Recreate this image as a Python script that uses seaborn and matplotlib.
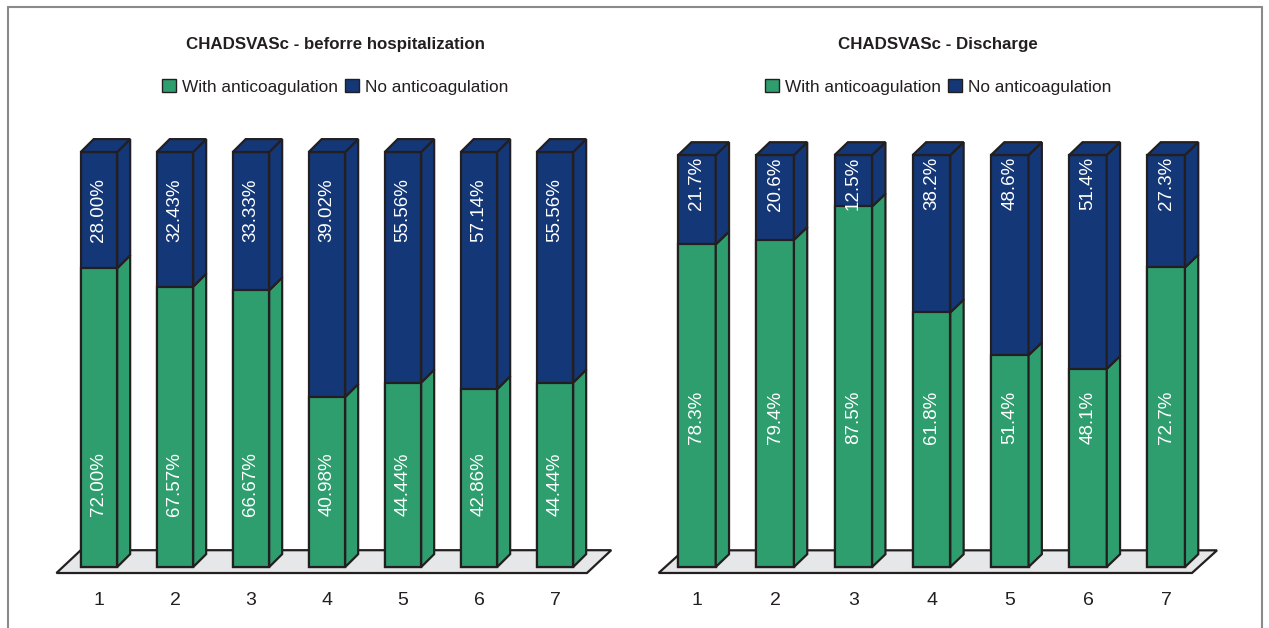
import matplotlib.pyplot as plt
import seaborn as sns
from matplotlib.patches import Polygon, Patch
from matplotlib.lines import Line2D

# data
categories = ["1", "2", "3", "4", "5", "6", "7"]
before_with = [72.00, 67.57, 66.67, 40.98, 44.44, 42.86, 44.44]
before_without = [28.00, 32.43, 33.33, 39.02, 55.56, 57.14, 55.56]
discharge_with = [78.3, 79.4, 87.5, 61.8, 51.4, 48.1, 72.7]
discharge_without = [21.7, 20.6, 12.5, 38.2, 48.6, 51.4, 27.3]
series_names = ["With anticoagulation", "No anticoagulation"]
titles = ["CHADSVASc - beforre hospitalization", "CHADSVASc - Discharge"]

GREEN = "#2f9e6f"
BLUE = "#143777"
EDGE = "#231f20"
FLOOR = "#e6e7e8"
LW = 1.6
W = 0.48

sns.set_style("white")
plt.rcParams["font.family"] = ["Liberation Sans", "DejaVu Sans"]

fig = plt.figure(figsize=(12.69, 6.28), dpi=100)
FW, FH = 1269, 628


def px_axes(left, top, right, bottom):
    return fig.add_axes([left / FW, 1 - bottom / FH, (right - left) / FW, (bottom - top) / FH])


def draw_panel(ax, with_vals, without_vals, fmt, title, xc, y_lab_with, y_lab_without,
               floor_l, floor_r):
    n = len(categories)
    total = [100] * n
    sns.barplot(x=categories, y=total, color=BLUE, saturation=1, width=W,
                edgecolor=EDGE, linewidth=LW, ax=ax, zorder=3)
    sns.barplot(x=categories, y=with_vals, color=GREEN, saturation=1, width=W,
                edgecolor=EDGE, linewidth=LW, ax=ax, zorder=3)
    dx, dy = 0.17, 3.1
    # floor
    fl = -W / 2 - floor_l
    fr = (n - 1) + W / 2 + floor_r
    fy, fdx, fdy = -1.45, 0.32, 5.5
    ax.add_patch(Polygon([(fl, fy), (fr, fy), (fr + fdx, fy + fdy), (fl + fdx, fy + fdy)],
                         closed=True, facecolor=FLOOR, edgecolor=EDGE, lw=LW, zorder=1))
    for i in range(n):
        g = with_vals[i]
        xr = i + W / 2
        xl = i - W / 2
        for y0, y1, c in [(0, g, GREEN), (g, 100, BLUE)]:
            ax.add_patch(Polygon([(xr, y0), (xr + dx, y0 + dy), (xr + dx, y1 + dy), (xr, y1)],
                                 closed=True, facecolor=c, edgecolor=EDGE, lw=LW,
                                 joinstyle="miter", zorder=3))
        ax.add_patch(Polygon([(xl, 100), (xr, 100), (xr + dx, 100 + dy), (xl + dx, 100 + dy)],
                             closed=True, facecolor=BLUE, edgecolor=EDGE, lw=LW,
                             joinstyle="miter", zorder=3))
        ax.text(i, y_lab_with, fmt.format(g), rotation=90, ha="center", va="center",
                color="white", fontsize=13.5, zorder=5)
        ax.text(i, y_lab_without, fmt.format(without_vals[i]), rotation=90, ha="center",
                va="center", color="white", fontsize=13.5, zorder=5)
    ax.set_xlim(-0.8, 7.0)
    ax.set_ylim(-5, 110)
    ax.set_yticks([])
    ax.set_xticks(range(n))
    ax.set_xticklabels(categories)
    ax.tick_params(axis="x", length=0, pad=3, labelsize=14, colors="#231f20")
    ax.set_xlabel("")
    ax.set_ylabel("")
    for s in ax.spines.values():
        s.set_visible(False)
    ax.patch.set_alpha(0)
    fig.text(xc / FW, 1 - 44 / FH, title, ha="center", va="center",
             fontsize=12.2, fontweight="bold", color="#231f20")
    handles = [Patch(facecolor=GREEN, edgecolor=EDGE, lw=1),
               Patch(facecolor=BLUE, edgecolor=EDGE, lw=1)]
    ax.legend(handles, series_names, loc="center", bbox_to_anchor=(xc / FW, 1 - 87 / FH),
              bbox_transform=fig.transFigure, ncol=2, frameon=False, fontsize=12.4,
              handlelength=0.8, handleheight=0.8, handletextpad=0.35,
              columnspacing=0.4, borderaxespad=0, labelcolor="#231f20")


ax1 = px_axes(38.2, 110.5, 631.0, 587.75)
draw_panel(ax1, before_with, before_without, "{:.2f}%", titles[0], 335, 20, 86, 0.32, 0.18)

ax2 = px_axes(634.4, 113.8, 1244.4, 587.6)
draw_panel(ax2, discharge_with, discharge_without, "{:.1f}%", titles[1], 938, 36.4, 93, 0.25, 0.09)

# outer frame
frame_kw = dict(transform=fig.transFigure, color="#8a8a8a", lw=1.5)
fig.add_artist(Line2D([8 / FW, 8 / FW], [0, 1 - 7 / FH], **frame_kw))
fig.add_artist(Line2D([8 / FW, 1262 / FW], [1 - 7 / FH, 1 - 7 / FH], **frame_kw))
fig.add_artist(Line2D([1262 / FW, 1262 / FW], [0, 1 - 7 / FH], **frame_kw))

fig.savefig("out.png", dpi=100)
